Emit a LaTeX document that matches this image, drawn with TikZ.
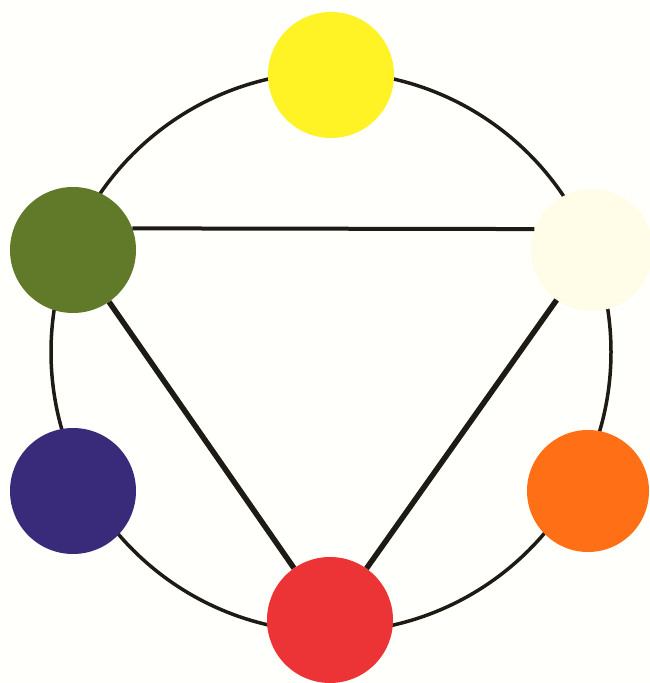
\documentclass[tikz,border=0pt]{standalone}
\usetikzlibrary{calc}

\definecolor{paper}{RGB}{255,255,251}
\definecolor{cyellow}{RGB}{255,243,38}
\definecolor{cgreen}{RGB}{96,122,42}
\definecolor{cwhite}{RGB}{255,253,232}
\definecolor{cpurple}{RGB}{58,42,122}
\definecolor{corange}{RGB}{255,112,22}
\definecolor{cred}{RGB}{236,52,54}
\definecolor{ink}{RGB}{30,26,20}

\begin{document}
\begin{tikzpicture}[x=1pt, y=1pt,
    disc/.style={circle, minimum size=126pt, inner sep=0pt},
    ring/.style={ink, line width=3.5pt},
    edge/.style={ink, line width=5.5pt}]
    % 背景
    \fill[paper] (0,0) rectangle (649,683);
    \useasboundingbox (0,0) rectangle (649,683);

    % 外側の円 (中心 C, 半径 R)
    \def\R{280}
    \coordinate (C) at (331,331);
    \draw[ring] (C) circle (\R);

    % -------------------------------------------------------------
    % 六つの色円
    % -------------------------------------------------------------
    \node[disc, fill=cyellow] (yellow) at (331,608) {};
    \node[disc, fill=cgreen]  (green)  at (73,433)  {};
    \node[disc, fill=cwhite, minimum size=122pt] (white) at (592,433) {};
    \node[disc, fill=cpurple] (purple) at (73,192)  {};
    \node[disc, fill=corange, minimum size=122pt] (orange) at (588,192) {};
    \node[disc, fill=cred]    (red)    at (330,63)  {};

    % 三角形 (緑・白・赤)
    \draw[ink, line width=4pt] (green.20) -- (white.160);
    \draw[edge] (green) -- (red);
    \draw[edge] (white) -- (red);

\end{tikzpicture}
\end{document}
